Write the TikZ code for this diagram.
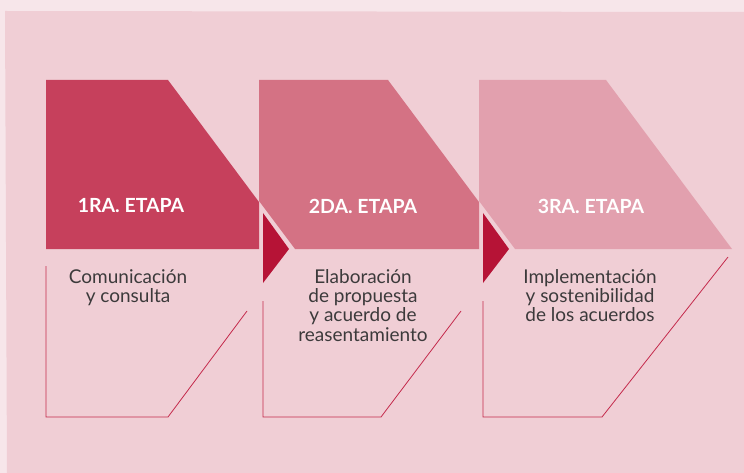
\documentclass[tikz,border=0pt]{standalone}
\usepackage{fontspec}
\setmainfont{Lato}
\usepackage{xcolor}
\definecolor{bgOuter}{HTML}{F7E6EA}
\definecolor{bgPanel}{HTML}{F0CED5}
\definecolor{etapaA}{HTML}{C6405C}
\definecolor{etapaB}{HTML}{D47284}
\definecolor{etapaC}{HTML}{E2A0AE}
\definecolor{flecha}{HTML}{B61336}
\definecolor{borde}{HTML}{C42A4C}
\definecolor{texto}{HTML}{3C3A3B}

\begin{document}
\begin{tikzpicture}[x=1pt, y=-1pt,
    etiqueta/.style={text=white, inner sep=0pt, font=\fontsize{19.5}{21}\selectfont\bfseries},
    cuerpo/.style={text=texto, inner sep=0pt, anchor=north, align=center, font=\fontsize{19}{19.3}\selectfont},
    marco/.style={borde, line width=0.8pt}]
    \useasboundingbox (0,0) rectangle (744,473);

    % Background (page and panel)
    \fill[bgOuter] (0,0) rectangle (744,473);
    \fill[bgPanel] (5,11) -- (744,12) -- (744,473) -- (7,473) -- cycle;

    % Stage headers
    \fill[etapaA] (46,80) -- (168,80) -- (259,202) -- (259,249) -- (46,249) -- cycle;
    \fill[etapaB] (259,80) -- (388,80) -- (479,202) -- (479,249) -- (295,249) -- (259,201) -- cycle;
    \fill[etapaC] (479,80) -- (606,80) -- (732,249) -- (515,249) -- (479,201) -- cycle;

    % Arrow tips between the stages
    \fill[flecha] (263,213) -- (289,249) -- (263,283) -- cycle;
    \fill[flecha] (483,213) -- (509,249) -- (483,283) -- cycle;

    % Frames below the headers
    \draw[marco] (46,266) -- (46,417) -- (168,417) -- (247,311);
    \draw[marco] (263,301) -- (263,417) -- (381,417) -- (461,311);
    \draw[marco] (483,301) -- (483,417) -- (602,417) -- (728,257);

    % Header labels
    \node[etiqueta] (etapa1) at (131,206) {1RA. ETAPA};
    \node[etiqueta] (etapa2) at (363,206) {2DA. ETAPA};
    \node[etiqueta] (etapa3) at (591,206) {3RA. ETAPA};

    % Stage descriptions
    \node[cuerpo] (desc1) at (128,269) {Comunicación\\y consulta};
    \node[cuerpo] (desc2) at (363,269) {Elaboración\\de propuesta\\y acuerdo de\\reasentamiento};
    \node[cuerpo] (desc3) at (590,269) {Implementación\\y sostenibilidad\\de los acuerdos};
\end{tikzpicture}
\end{document}
